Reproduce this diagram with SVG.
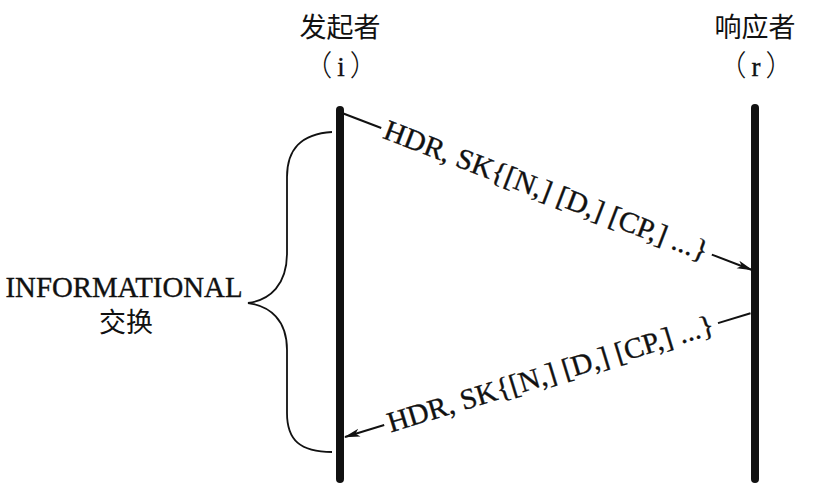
<svg xmlns="http://www.w3.org/2000/svg" width="826" height="492" viewBox="0 0 826 492">
<defs>
<style>
.cjk{font-family:"Liberation Serif","Noto Sans CJK SC",serif;fill:#111;}
.lat{font-family:"Liberation Serif","Noto Sans CJK SC",serif;fill:#111;stroke:#111;stroke-width:0.35;}
.par{font-family:"Noto Sans CJK SC",sans-serif;font-weight:300;stroke:none;}
.life{stroke:#111;stroke-width:8;stroke-linecap:round;fill:none;}
.msg{stroke:#111;stroke-width:2;fill:none;}
</style>
<marker id="ah" viewBox="0 0 16 10" refX="15" refY="5" markerWidth="16" markerHeight="10" markerUnits="userSpaceOnUse" orient="auto-start-reverse">
<path d="M0,1 L16,5 L0,9 L4,5 Z" fill="#111"/>
</marker>
</defs>
<rect width="826" height="492" fill="#fff"/>
<g id="initiator">
<text class="cjk" x="340" y="37" font-size="27" text-anchor="middle">发起者</text>
<text class="lat" x="341" y="76" font-size="27" text-anchor="middle"><tspan class="par" font-size="29">（</tspan><tspan dx="5">i</tspan><tspan class="par" font-size="29" dx="5">）</tspan></text>
<line class="life" x1="340" y1="110" x2="340" y2="479"/>
</g>
<g id="responder">
<text class="cjk" x="755" y="37" font-size="27" text-anchor="middle">响应者</text>
<text class="lat" x="756" y="76" font-size="27" text-anchor="middle"><tspan class="par" font-size="29">（</tspan><tspan dx="5">r</tspan><tspan class="par" font-size="29" dx="5">）</tspan></text>
<line class="life" x1="755" y1="108" x2="755" y2="479"/>
</g>
<g id="exchange">
<path d="M332,132 C300,134 287,150 287,177 L287,253 C287,285 270,300 248,303 C270,306 287,320 287,350 L287,413 C287,440 300,452 332,452" fill="none" stroke="#111" stroke-width="1.8"/>
<text class="lat" x="124" y="297" font-size="29" text-anchor="middle" textLength="237" lengthAdjust="spacingAndGlyphs">INFORMATIONAL</text>
<text class="cjk" x="126" y="332" font-size="27" text-anchor="middle">交换</text>
</g>
<g id="connectors">
<g transform="translate(342,113) rotate(20.95)">
<line class="msg" x1="0" y1="0" x2="42" y2="0"/>
<line class="msg" x1="396" y1="0" x2="439" y2="0" marker-end="url(#ah)"/>
<text class="lat" x="46" y="9" font-size="29" textLength="345" lengthAdjust="spacingAndGlyphs">HDR, SK{[N,] [D,] [CP,] ...}</text>
</g>
<g transform="translate(345,437) rotate(-16.98)">
<line class="msg" x1="0" y1="0" x2="41" y2="0" marker-start="url(#ah)"/>
<line class="msg" x1="390" y1="0" x2="424" y2="0"/>
<text class="lat" x="45" y="9" font-size="29" textLength="340" lengthAdjust="spacingAndGlyphs">HDR, SK{[N,] [D,] [CP,] ...}</text>
</g>
</g>
</svg>
